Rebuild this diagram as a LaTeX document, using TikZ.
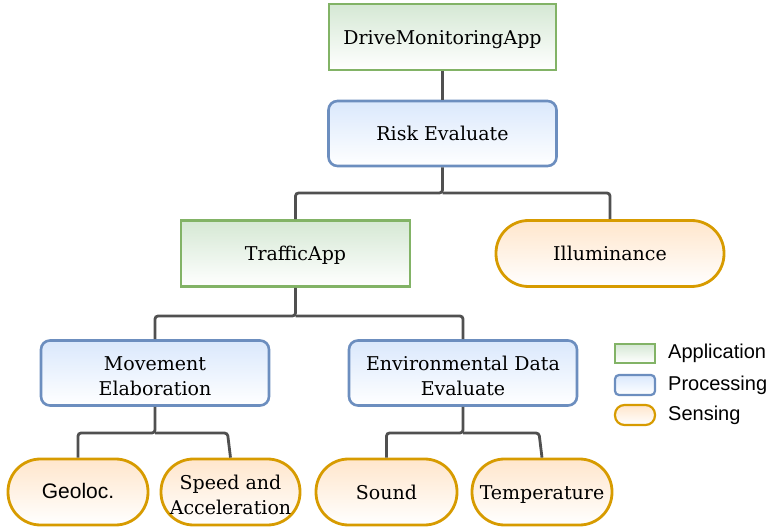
\documentclass[tikz,border=0pt]{standalone}
\usepackage{fontspec}
\setmainfont{DejaVu Serif}
\newfontfamily\legfont{Liberation Sans}
\definecolor{gstroke}{HTML}{82B366}
\definecolor{gfill}{HTML}{D5E8D4}
\definecolor{bstroke}{HTML}{6C8EBF}
\definecolor{bfill}{HTML}{DAE8FC}
\definecolor{ostroke}{HTML}{D79B00}
\definecolor{ofill}{HTML}{FFE6CC}
\definecolor{wire}{HTML}{505050}
\newcommand{\twolines}[2]{\raisebox{-9pt}[0pt][0pt]{\begin{tabular}{@{}c@{}}#1\\#2\end{tabular}}}
\begin{document}
\begin{tikzpicture}[x=1pt,y=-1pt,
  appbox/.style={draw=gstroke, line width=2.6pt, top color=gfill, bottom color=white,
    minimum width=227pt, minimum height=66pt, align=center, inner sep=0pt, font=\fontsize{19}{25}\selectfont},
  procbox/.style={draw=bstroke, line width=2.6pt, top color=bfill, bottom color=white, rounded corners=9pt,
    minimum width=228pt, minimum height=65pt, align=center, inner sep=0pt, font=\fontsize{19}{25}\selectfont},
  sensbox/.style={draw=ostroke, line width=2.8pt, top color=ofill, bottom color=white, rounded corners=32.5pt,
    minimum height=66pt, align=center, inner sep=0pt, font=\fontsize{19}{25}\selectfont},
  oneline/.style={text height=18pt, text depth=3pt},
  wirel/.style={draw=wire, line width=2.8pt, rounded corners=3pt},
  legtext/.style={anchor=west, inner sep=0pt, font=\legfont\fontsize{20}{24}\selectfont}
]
\useasboundingbox (0,0) rectangle (772,529);
\node[appbox, oneline] (dma) at (442.5,37) {DriveMonitoringApp};
\node[procbox, oneline] (risk) at (442.5,133.5) {Risk Evaluate};
\node[appbox, oneline, minimum width=229pt] (traffic) at (295.5,253.5) {TrafficApp};
\node[sensbox, oneline, minimum width=228pt] (illum) at (610,253.5) {Illuminance};
\node[procbox] (move) at (155,373) {\twolines{Movement}{Elaboration}};
\node[procbox] (env) at (463,373) {\twolines{Environmental Data}{Evaluate}};
\node[sensbox, minimum width=140pt, text height=16pt, text depth=2pt, font=\legfont\fontsize{21}{24}\selectfont] (geo) at (78,492) {Geoloc.};
\node[sensbox, minimum width=139pt] (speed) at (230.5,492) {\twolines{Speed and}{Acceleration}};
\node[sensbox, oneline, minimum width=141pt] (sound) at (386.5,492) {Sound};
\node[sensbox, oneline, minimum width=140pt] (temp) at (542,492) {Temperature};

\draw[wirel] (dma.south) -- (risk.north);
\draw[wirel] (risk.south) -- (442.5,193) -| (traffic.north);
\draw[wirel] (442.5,193) -| (illum.north);
\draw[wirel] (traffic.south) -- (295.5,316) -| (move.north);
\draw[wirel] (295.5,316) -| (env.north);
\draw[wirel] (move.south) -- (155,433) -| (geo.north);
\draw[wirel] (155,433) -- (227.5,433) -- (speed.north);
\draw[wirel] (env.south) -- (463,433) -| (sound.north);
\draw[wirel] (463,433) -- (539,433) -- (temp.north);

\node[draw=gstroke, line width=2.2pt, top color=gfill, bottom color=white, minimum width=40pt, minimum height=19pt, inner sep=0pt] (lapp) at (635,353.5) {};
\node[draw=bstroke, line width=2.2pt, top color=bfill, bottom color=white, rounded corners=4pt, minimum width=40pt, minimum height=20pt, inner sep=0pt] (lproc) at (635,385) {};
\node[draw=ostroke, line width=2.2pt, top color=ofill, bottom color=white, rounded corners=9.5pt, minimum width=40pt, minimum height=20pt, inner sep=0pt] (lsens) at (635,415) {};
\node[legtext] (tapp) at (668,353.5) {Application};
\node[legtext] (tproc) at (668,385) {Processing};
\node[legtext] (tsens) at (668,415) {Sensing};
\end{tikzpicture}
\end{document}
